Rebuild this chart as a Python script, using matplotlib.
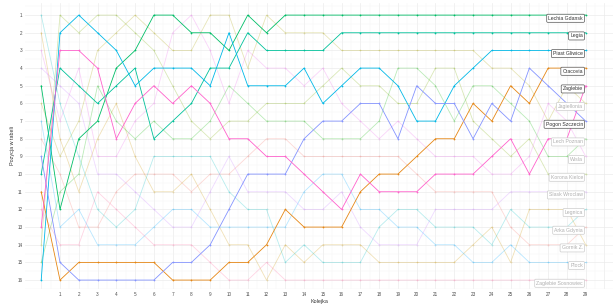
import matplotlib
matplotlib.use("Agg")
import matplotlib.pyplot as plt
import numpy as np

# kolejki 0..29, pozycja w tabeli po kazdej kolejce
rounds = list(range(0, 30))

teams = ["Arka Gdynia", "Cracovia", "Gornik Z.", "Jagiellonia", "Korona Kielce",
         "Lech Poznan", "Lechia Gdansk", "Legia", "Legnica", "Piast Gliwice",
         "Plock", "Pogon Szczecin", "Slask Wroclaw", "Wisla", "Zaglebie",
         "Zaglebie Sosnowiec"]

colors = ["#F8766D", "#E68613", "#CD9600", "#ABA300", "#7CAE00", "#0CB702",
          "#00BE67", "#00C19A", "#00BFC4", "#00B8E7", "#00A9FF", "#8494FF",
          "#C77CFF", "#ED68ED", "#FF61CC", "#FF68A1"]

highlight = ["Lechia Gdansk", "Legia", "Piast Gliwice", "Cracovia", "Zaglebie", "Pogon Szczecin"]

arka = [8, 10, 13, 13, 11, 10, 10, 10, 11, 10, 10, 9, 8, 8, 9, 9, 9, 9, 9, 9, 10, 11, 11, 11, 11, 13, 14, 14, 14, 13]
cracovia = [11, 16, 15, 15, 15, 15, 15, 16, 16, 16, 15, 15, 14, 12, 13, 13, 13, 11, 10, 10, 9, 8, 8, 6, 7, 5, 6, 4, 4, 4]
gornik = [2, 8, 11, 8, 6, 9, 11, 11, 10, 12, 14, 14, 16, 14, 15, 14, 14, 14, 15, 15, 15, 15, 15, 14, 13, 15, 12, 12, 12, 14]
jagiellonia = [6, 9, 7, 3, 2, 1, 2, 3, 3, 1, 1, 4, 1, 2, 2, 2, 3, 3, 3, 3, 3, 3, 3, 3, 4, 4, 5, 7, 5, 6]
korona = [14, 1, 2, 1, 1, 2, 3, 5, 7, 8, 7, 7, 6, 6, 6, 5, 4, 5, 5, 6, 6, 4, 4, 7, 8, 9, 8, 10, 10, 10]
lech = [15, 11, 10, 5, 7, 8, 7, 8, 8, 7, 5, 6, 7, 7, 7, 8, 8, 8, 7, 4, 4, 5, 7, 5, 5, 6, 7, 9, 9, 8]
lechia = [5, 12, 8, 7, 4, 3, 1, 1, 2, 2, 3, 1, 2, 1, 1, 1, 1, 1, 1, 1, 1, 1, 1, 1, 1, 1, 1, 1, 1, 1]
legia = [10, 4, 5, 6, 5, 4, 8, 7, 6, 4, 4, 2, 3, 3, 3, 3, 2, 2, 2, 2, 2, 2, 2, 2, 2, 2, 2, 2, 2, 2]
legnica = [1, 6, 9, 12, 13, 12, 9, 9, 9, 9, 11, 12, 12, 15, 14, 15, 15, 15, 13, 12, 12, 13, 13, 13, 14, 12, 13, 13, 13, 12]
piast = [16, 2, 1, 2, 3, 5, 4, 4, 4, 5, 2, 5, 5, 5, 4, 6, 5, 4, 4, 5, 7, 7, 5, 4, 3, 3, 3, 3, 3, 3]
plock = [7, 13, 12, 14, 14, 14, 13, 12, 12, 13, 13, 13, 13, 13, 11, 10, 10, 12, 12, 13, 13, 14, 14, 15, 15, 14, 15, 15, 15, 15]
pogon = [9, 15, 16, 16, 16, 16, 16, 15, 15, 14, 12, 10, 10, 10, 8, 7, 7, 6, 6, 8, 5, 6, 6, 8, 6, 7, 4, 5, 6, 7]
slask = [4, 5, 6, 10, 10, 11, 12, 13, 13, 11, 9, 11, 11, 11, 12, 12, 11, 13, 14, 14, 14, 12, 12, 12, 12, 11, 11, 11, 11, 11]
wisla = [3, 7, 4, 9, 9, 7, 6, 2, 1, 3, 6, 3, 4, 4, 5, 4, 6, 7, 8, 7, 8, 9, 9, 9, 10, 10, 9, 6, 7, 9]
zaglebie = [13, 3, 3, 4, 8, 6, 5, 6, 5, 6, 8, 8, 9, 9, 10, 11, 12, 10, 11, 11, 11, 10, 10, 10, 9, 8, 10, 8, 8, 5]
sosnowiec = [12, 14, 14, 11, 12, 13, 14, 14, 14, 15, 16, 16, 15, 16, 16, 16, 16, 16, 16, 16, 16, 16, 16, 16, 16, 16, 16, 16, 16, 16]

positions = [arka, cracovia, gornik, jagiellonia, korona, lech, lechia, legia,
             legnica, piast, plock, pogon, slask, wisla, zaglebie, sosnowiec]

plt.rcParams['font.family'] = ['Liberation Sans', 'DejaVu Sans']

fig = plt.figure(figsize=(6.16, 3.08), dpi=100)
ax = fig.add_axes([0.041, 0.062, 0.954, 0.928])

# siatka
for x in np.arange(0, 31):
    ax.axvline(x, color="#ebebeb", lw=0.5, zorder=0)
for x in np.arange(0.5, 30.5, 1):
    ax.axvline(x, color="#f5f5f5", lw=0.35, zorder=0)
for y in range(1, 17):
    ax.axhline(y, color="#ebebeb", lw=0.5, zorder=0)
for y in np.arange(0.5, 17, 1):
    ax.axhline(y, color="#f5f5f5", lw=0.35, zorder=0)

order = [i for i in range(len(teams)) if teams[i] not in highlight] + \
        [i for i in range(len(teams)) if teams[i] in highlight]

for i in order:
    name = teams[i]
    pos = positions[i]
    hl = name in highlight
    a = 1.0 if hl else 0.28
    ax.plot(rounds, pos, color=colors[i], lw=0.6, alpha=a, zorder=3 if hl else 2)
    ax.scatter(rounds, pos, color=colors[i], s=1.6, alpha=a, lw=0, zorder=4 if hl else 2)
    if hl:
        tc, ec = "#333333", "#555555"
    else:
        tc, ec = "#b0b0b0", "#cccccc"
    ax.text(rounds[-1] - 0.15, pos[-1] + 0.18, name, ha="right", va="center",
            fontsize=3.7, color=tc, zorder=6,
            bbox=dict(boxstyle="round,pad=0.3,rounding_size=0.2", fc="white", ec=ec, lw=0.5))

ax.set_xlim(-0.85, 30.45)
ax.set_ylim(16.5, 0.32)
ax.set_xticks(range(1, 30))
ax.set_yticks(range(1, 17))
ax.tick_params(axis="both", length=0, labelsize=3.3, labelcolor="#4d4d4d", pad=2)
for s in ax.spines.values():
    s.set_visible(False)
ax.set_xlabel("Kolejka", fontsize=3.9, color="#333333", labelpad=1.5)
ax.set_ylabel("Pozycja w tabeli", fontsize=3.9, color="#333333", labelpad=2)

fig.savefig("out.png", dpi=100)
